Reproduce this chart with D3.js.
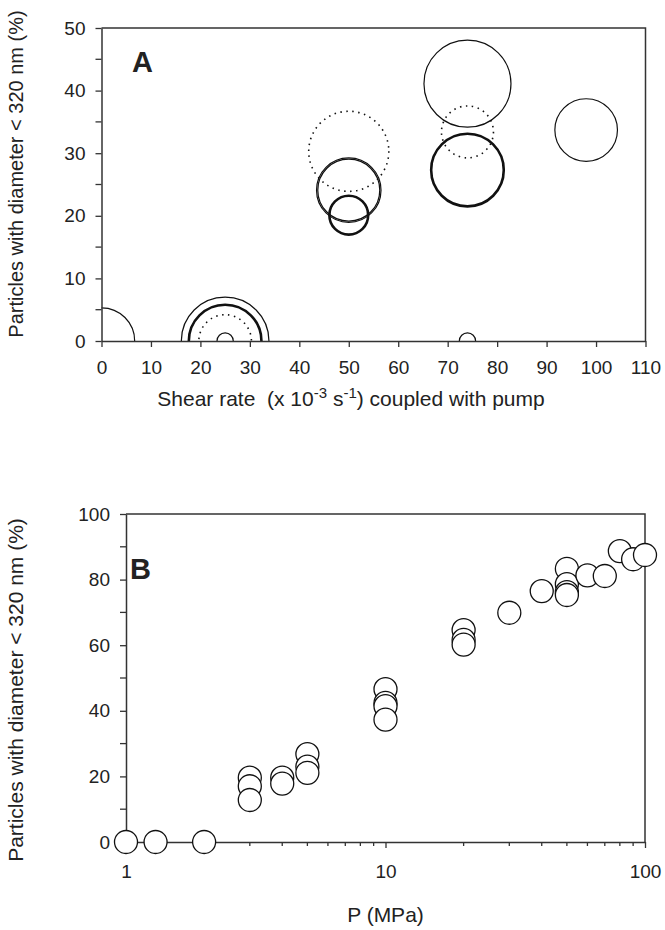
<!DOCTYPE html>
<html>
<head>
<meta charset="utf-8">
<script src="https://cdn.jsdelivr.net/npm/d3@7"></script>
<style>
  body { margin: 0; background: #fff; }
  svg { font-family: "Liberation Sans", Arial, Helvetica, sans-serif; }
  .pre { white-space: pre; }
</style>
</head>
<body>
<div id="chart"></div>
<script>
// ---- Panel A: bubbles (x = shear rate, y = % particles, size in y units)
const thinShear = [0, 25, 25, 74, 50, 50, 74, 98];
const thinPct   = [0, 0, 0, 0, 24.1, 24.1, 41.1, 33.7];
const thinSize  = [5.3, 7.0, 1.3, 1.3, 4.95, 5.15, 6.95, 5.0];

const thickShear = [25, 50, 74];
const thickPct   = [0, 20.1, 27.3];
const thickSize  = [5.8, 3.1, 5.8];

const dotShear = [25, 50, 74];
const dotPct   = [0, 30.3, 33.4];
const dotSize  = [4.2, 6.4, 4.15];

const shearTicks = d3.range(0, 111, 10);
const pctTicksA  = [0, 10, 20, 30, 40, 50];
const pctMinorA  = [5, 15, 25, 35, 45];

// ---- Panel B: % particles vs pressure
const pressure = [1, 1.3, 2, 3, 3, 3, 4, 4, 5, 5, 5, 10, 10, 10, 10,
                  20, 20, 20, 30, 40, 50, 50, 50, 50, 60, 70, 80, 90, 100];
const pctB     = [0, 0, 0, 19.6, 17, 12.8, 19.6, 17.8, 26.8, 23, 21.1,
                  46.6, 42.4, 41.4, 37.3, 64.6, 61.6, 60.2, 69.9, 76.5,
                  83.3, 78.6, 76.2, 75.3, 81.3, 81.1, 88.7, 86.2, 87.5];

const pTicks     = [1, 10, 100];
const pMinor     = [2, 3, 4, 5, 6, 7, 8, 9, 20, 30, 40, 50, 60, 70, 80, 90];
const pctTicksB  = [0, 20, 40, 60, 80, 100];
const pctMinorB  = [10, 30, 50, 70, 90];

const W = 665, H = 930;
const axisColor = "#333";

const svg = d3.select("#chart").append("svg")
    .attr("width", W)
    .attr("height", H);

function styleAxis(g) {
    g.selectAll("path.domain").attr("stroke", axisColor).attr("stroke-width", 1.5);
    g.selectAll(".tick line").attr("stroke", axisColor).attr("stroke-width", 1.3);
    g.selectAll(".tick text").attr("fill", "#222").style("font-size", "19px");
}

// ================= Panel A =================
const a = { left: 101.5, right: 645.5, top: 28, bottom: 341 };

const xA = d3.scaleLinear().domain([0, 110]).range([a.left, a.right]);
const yA = d3.scaleLinear().domain([0, 50]).range([a.bottom, a.top]);
const rA = d3.scaleLinear().domain([0, 50]).range([0, a.bottom - a.top]);

svg.append("clipPath").attr("id", "clipA")
  .append("rect")
    .attr("x", a.left).attr("y", a.top)
    .attr("width", a.right - a.left).attr("height", a.bottom - a.top);

const gA = svg.append("g").attr("clip-path", "url(#clipA)");

function bubbles(xs, ys, ss, width, dash) {
    gA.append("g").selectAll("circle")
      .data(xs.map((x, i) => ({ x, y: ys[i], s: ss[i] })))
      .join("circle")
        .attr("cx", d => xA(d.x))
        .attr("cy", d => yA(d.y))
        .attr("r", d => rA(d.s))
        .attr("fill", "none")
        .attr("stroke", "#111")
        .attr("stroke-width", width)
        .attr("stroke-dasharray", dash);
}
bubbles(dotShear, dotPct, dotSize, 1.6, "1.5,4.5");
bubbles(thinShear, thinPct, thinSize, 1.2, null);
bubbles(thickShear, thickPct, thickSize, 2.6, null);

// frame
svg.append("path")
    .attr("d", `M${a.left},${a.top}H${a.right}V${a.bottom}`)
    .attr("fill", "none").attr("stroke", axisColor).attr("stroke-width", 1.5);

const axA = svg.append("g")
    .attr("transform", `translate(0,${a.bottom})`)
    .call(d3.axisBottom(xA).tickValues(shearTicks).tickSize(6).tickSizeOuter(0).tickPadding(14));
styleAxis(axA);

const ayA = svg.append("g")
    .attr("transform", `translate(${a.left},0)`)
    .call(d3.axisLeft(yA).tickValues(pctTicksA).tickSize(6).tickSizeOuter(0).tickPadding(10));
styleAxis(ayA);

svg.append("g").selectAll("line")
  .data(pctMinorA)
  .join("line")
    .attr("x1", a.left - 6).attr("x2", a.left)
    .attr("y1", d => yA(d)).attr("y2", d => yA(d))
    .attr("stroke", axisColor).attr("stroke-width", 1.3);

svg.append("text")
    .attr("x", 132).attr("y", 72)
    .style("font-size", "29px").style("font-weight", "bold")
    .attr("fill", "#222")
    .text("A");

const titleA = svg.append("text")
    .attr("class", "pre")
    .attr("x", 351)
    .attr("y", 406)
    .attr("text-anchor", "middle")
    .style("font-size", "21px")
    .attr("fill", "#222");
titleA.append("tspan").text("Shear rate  (x 10");
titleA.append("tspan").attr("dy", -8).style("font-size", "15px").text("-3");
titleA.append("tspan").attr("dy", 8).text(" s");
titleA.append("tspan").attr("dy", -8).style("font-size", "15px").text("-1");
titleA.append("tspan").attr("dy", 8).text(") coupled with pump");

svg.append("text")
    .attr("transform", `translate(23,174) rotate(-90)`)
    .attr("text-anchor", "middle")
    .style("font-size", "20px")
    .attr("fill", "#222")
    .text("Particles with diameter < 320 nm (%)");

// ================= Panel B =================
const b = { left: 126, right: 645, top: 514, bottom: 842 };

const xB = d3.scaleLog().domain([1, 100]).range([b.left, b.right]);
const yB = d3.scaleLinear().domain([0, 100]).range([b.bottom, b.top]);

svg.append("path")
    .attr("d", `M${b.left},${b.top}H${b.right}V${b.bottom}`)
    .attr("fill", "none").attr("stroke", axisColor).attr("stroke-width", 1.5);

const axB = svg.append("g")
    .attr("transform", `translate(0,${b.bottom})`)
    .call(d3.axisBottom(xB).tickValues(pTicks).tickFormat(d3.format("d"))
        .tickSize(6).tickSizeOuter(0).tickPadding(17));
styleAxis(axB);

svg.append("g").selectAll("line")
  .data(pMinor)
  .join("line")
    .attr("x1", d => xB(d)).attr("x2", d => xB(d))
    .attr("y1", b.bottom).attr("y2", b.bottom + 4)
    .attr("stroke", axisColor).attr("stroke-width", 1.3);

const ayB = svg.append("g")
    .attr("transform", `translate(${b.left},0)`)
    .call(d3.axisLeft(yB).tickValues(pctTicksB).tickSize(6).tickSizeOuter(0).tickPadding(10));
styleAxis(ayB);

svg.append("g").selectAll("line")
  .data(pctMinorB)
  .join("line")
    .attr("x1", b.left - 6).attr("x2", b.left)
    .attr("y1", d => yB(d)).attr("y2", d => yB(d))
    .attr("stroke", axisColor).attr("stroke-width", 1.3);

svg.append("g").selectAll("circle")
  .data(pressure.map((p, i) => ({ p, v: pctB[i] })))
  .join("circle")
    .attr("cx", d => xB(d.p))
    .attr("cy", d => yB(d.v))
    .attr("r", 11.5)
    .attr("fill", "#fff")
    .attr("stroke", "#111")
    .attr("stroke-width", 1.3);

svg.append("text")
    .attr("x", 130).attr("y", 579)
    .style("font-size", "29px").style("font-weight", "bold")
    .attr("fill", "#222")
    .text("B");

svg.append("text")
    .attr("x", (b.left + b.right) / 2)
    .attr("y", 922)
    .attr("text-anchor", "middle")
    .style("font-size", "21px")
    .attr("fill", "#222")
    .text("P (MPa)");

svg.append("text")
    .attr("transform", `translate(23,690) rotate(-90)`)
    .attr("text-anchor", "middle")
    .style("font-size", "21px")
    .attr("fill", "#222")
    .text("Particles with diameter < 320 nm (%)");
</script>
</body>
</html>
